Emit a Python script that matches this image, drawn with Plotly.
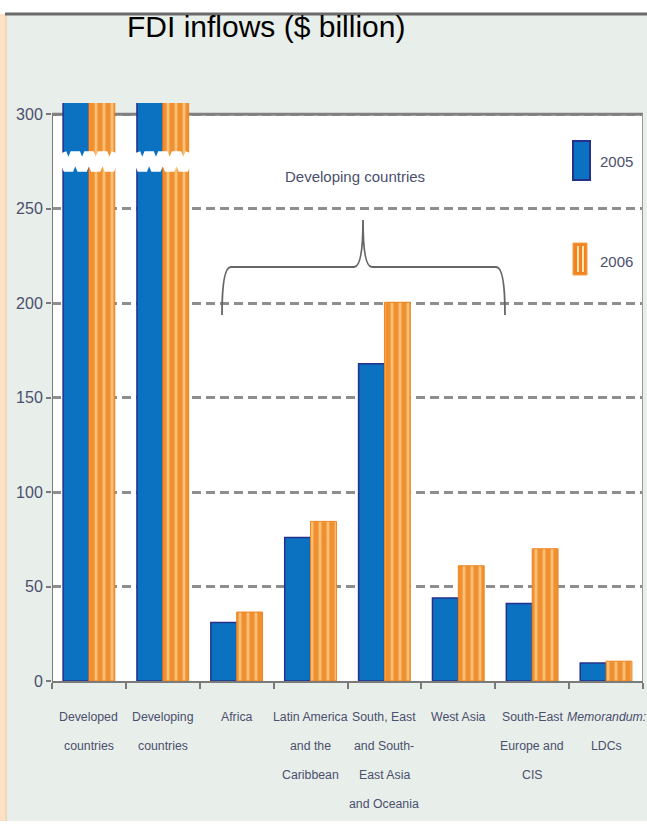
import plotly.graph_objects as go

# ---------------- data ----------------
categories = [
    ["Developed", "countries"],
    ["Developing", "countries"],
    ["Africa"],
    ["Latin America", "and the", "Caribbean"],
    ["South, East", "and South-", "East Asia", "and Oceania"],
    ["West Asia"],
    ["South-East", "Europe and", "CIS"],
    ["<i>Memorandum:</i>", "LDCs"],
]
series_names = ["2005", "2006"]
values_2005 = [590, 314, 31, 76, 168, 44, 41, 9.5]
values_2006 = [857, 379, 36.5, 84.5, 200.5, 61, 70, 10.5]
y_ticks = [0, 50, 100, 150, 200, 250, 300]
title_text = "FDI inflows ($ billion)"
bracket_text = "Developing countries"
broken_groups = [0, 1]          # bars cut off above the axis

# ---------------- layout geometry ----------------
W, H = 647, 827
ML, MR, MT, MB = 52, 4, 103, 146
PW, PH = W - ML - MR, H - MT - MB
YMAX = 306
NCAT = len(categories)

def px2x(px):
    return (px - ML) / PW * NCAT - 0.5

def py2y(py):
    return (H - MB - py) / PH * YMAX

def pxp(px):
    return (px - ML) / PW

def pyp(py):
    return (H - MB - py) / PH

FONT = "Liberation Sans Narrow, Liberation Sans, Arial, sans-serif"
TXT = "#4b4f6e"
GRID = "#8e8e8e"
BLUE = "#0b72c2"
NAVY = "#24308a"
ORANGE = "#ef8420"

xs = list(range(NCAT))

fig = go.Figure()
fig.add_trace(go.Bar(
    x=xs, y=values_2005, name=series_names[0],
    marker=dict(color=BLUE, line=dict(color=NAVY, width=1.5)),
    showlegend=False,
))
fig.add_trace(go.Bar(
    x=xs, y=values_2006, name=series_names[1],
    marker=dict(color=ORANGE, line=dict(color=ORANGE, width=1),
                pattern=dict(shape="|", bgcolor="#f0902e", fgcolor="#fff0c2",
                             size=8, solidity=0.35)),
    showlegend=False,
))

# broken-axis zigzag on the truncated bars
for g in broken_groups:
    zx, zy = [], []
    n = 8
    for k in range(n + 1):
        zx.append(g - 0.37 + 0.74 * k / n)
        zy.append(py2y(153) if k % 2 == 0 else py2y(170))
    fig.add_trace(go.Scatter(x=zx, y=zy, mode="lines",
                             line=dict(color="white", width=10),
                             hoverinfo="skip", showlegend=False))

shapes = []
# background panels
shapes.append(dict(type="rect", xref="paper", yref="paper",
                   x0=pxp(0), x1=pxp(W), y0=pyp(H), y1=pyp(0),
                   fillcolor="white", line_width=0, layer="below"))
shapes.append(dict(type="rect", xref="paper", yref="paper",
                   x0=pxp(5), x1=pxp(W), y0=pyp(H - 6), y1=pyp(14),
                   fillcolor="#e8eee9", line_width=0, layer="below"))
shapes.append(dict(type="rect", xref="paper", yref="paper",
                   x0=pxp(0), x1=pxp(7), y0=pyp(H - 6), y1=pyp(14),
                   fillcolor="rgba(250,190,130,0.45)", line_width=0, layer="below"))
# top dark line
shapes.append(dict(type="line", xref="paper", yref="paper",
                   x0=pxp(5), x1=pxp(W), y0=pyp(14), y1=pyp(14),
                   line=dict(color="#6a6a6a", width=3), layer="below"))
# white plot panel
shapes.append(dict(type="rect", xref="x", yref="y",
                   x0=-0.5, x1=NCAT - 0.5, y0=0, y1=y_ticks[-1],
                   fillcolor="white", line_width=0, layer="below"))
# solid 300 line, left axis and right border
shapes.append(dict(type="line", xref="x", yref="y",
                   x0=-0.5, x1=NCAT - 0.5, y0=y_ticks[-1], y1=y_ticks[-1],
                   line=dict(color="#808080", width=3), layer="between"))
shapes.append(dict(type="line", xref="x", yref="y",
                   x0=-0.5, x1=-0.5, y0=0, y1=y_ticks[-1],
                   line=dict(color="#7a7a7a", width=2), layer="above"))
shapes.append(dict(type="line", xref="x", yref="y",
                   x0=NCAT - 0.5, x1=NCAT - 0.5, y0=0, y1=y_ticks[-1],
                   line=dict(color="#9a9a9a", width=2), layer="above"))

# curly brace over developing regions
xl, xr = px2x(222), px2x(505)
xt = px2x(363)
yb, yh, yt = py2y(315), py2y(267), py2y(220)
dx = 0.12
path = (f"M {xl},{yb} Q {xl},{yh} {xl+dx},{yh} L {xt-dx},{yh} "
        f"Q {xt},{yh} {xt},{yt} Q {xt},{yh} {xt+dx},{yh} "
        f"L {xr-dx},{yh} Q {xr},{yh} {xr},{yb}")
shapes.append(dict(type="path", xref="x", yref="y", path=path,
                   line=dict(color="#666666", width=1.8)))

# custom legend swatches
shapes.append(dict(type="rect", xref="x", yref="y",
                   x0=px2x(573), x1=px2x(590), y0=py2y(180), y1=py2y(141),
                   fillcolor=BLUE, line=dict(color=NAVY, width=2)))
shapes.append(dict(type="rect", xref="x", yref="y",
                   x0=px2x(573), x1=px2x(587), y0=py2y(275), y1=py2y(243),
                   fillcolor=ORANGE, line=dict(color="#f5a04a", width=1)))
shapes.append(dict(type="line", xref="x", yref="y",
                   x0=px2x(578), x1=px2x(578), y0=py2y(272), y1=py2y(246),
                   line=dict(color="#fde3b0", width=2)))
shapes.append(dict(type="line", xref="x", yref="y",
                   x0=px2x(583), x1=px2x(583), y0=py2y(272), y1=py2y(246),
                   line=dict(color="#fde3b0", width=2)))

annotations = []
annotations.append(dict(text=title_text, xref="paper", yref="paper",
                        x=pxp(266), y=pyp(27), showarrow=False,
                        font=dict(family="Liberation Sans, Arial, sans-serif",
                                  size=30, color="black"),
                        xanchor="center", yanchor="middle"))
for g in broken_groups:
    annotations.append(dict(text=f"{values_2005[g]:g} {values_2006[g]:g}",
                            x=g, y=py2y(75), xref="x", yref="y",
                            showarrow=False, xanchor="center", yanchor="middle",
                            font=dict(family=FONT, size=15, color=TXT)))
annotations.append(dict(text=bracket_text, x=px2x(355), y=py2y(176),
                        xref="x", yref="y", showarrow=False,
                        font=dict(family=FONT, size=15, color=TXT)))
annotations.append(dict(text=series_names[0], x=px2x(598), y=py2y(161),
                        xref="x", yref="y", showarrow=False, xanchor="left",
                        font=dict(family=FONT, size=15, color=TXT)))
annotations.append(dict(text=series_names[1], x=px2x(598), y=py2y(261),
                        xref="x", yref="y", showarrow=False, xanchor="left",
                        font=dict(family=FONT, size=15, color=TXT)))
# category labels, one line per annotation
for i, lines in enumerate(categories):
    for j, line in enumerate(lines):
        annotations.append(dict(text=line, x=i, y=0, xref="x", yref="paper",
                                yshift=-(36 + 29 * j), showarrow=False,
                                xanchor="center", yanchor="middle",
                                font=dict(family=FONT, size=12.3, color=TXT)))

fig.update_layout(
    width=W, height=H,
    margin=dict(l=ML, r=MR, t=MT, b=MB, pad=0),
    paper_bgcolor="#e8eee9",
    plot_bgcolor="rgba(0,0,0,0)",
    barmode="group", bargap=0.3, bargroupgap=0,
    shapes=shapes, annotations=annotations,
    showlegend=False,
    xaxis=dict(range=[-0.5, NCAT - 0.5], tickvals=xs, ticktext=[""] * NCAT,
               ticks="", showgrid=False, zeroline=False,
               showline=True, linecolor="#7a7a7a", linewidth=2,
               minor=dict(dtick=1, tick0=-0.5, ticks="outside", ticklen=6,
                          tickcolor="#7a7a7a", tickwidth=1.5, showgrid=False)),
    yaxis=dict(range=[0, YMAX], tickvals=y_ticks, ticktext=[str(t) for t in y_ticks],
               ticks="outside", ticklen=5, tickcolor="#7a7a7a", tickwidth=2,
               showline=False, zeroline=False,
               showgrid=True, gridcolor=GRID, gridwidth=3, griddash="9px,5px",
               tickfont=dict(family=FONT, size=16, color=TXT)),
)

fig.write_html("out.html",
               config={"displayModeBar": False},
               post_script="document.body.style.margin='0px';"
                           "document.body.style.overflow='hidden';")
